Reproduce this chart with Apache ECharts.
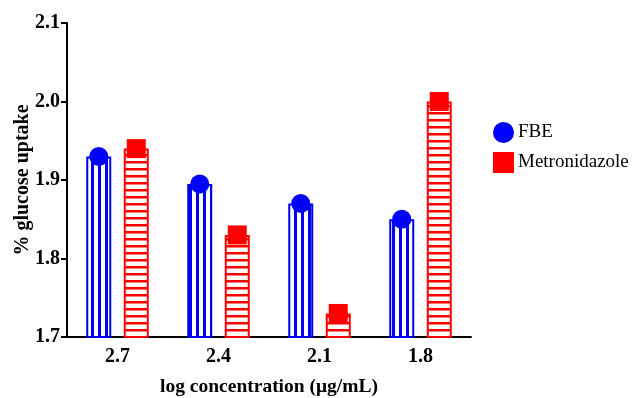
<!DOCTYPE html>
<html>
<head>
<meta charset="utf-8">
<script src="https://cdn.jsdelivr.net/npm/echarts@6/dist/echarts.min.js"></script>
<style>
  html, body { margin: 0; padding: 0; background: #fff; }
  #chart { width: 632px; height: 398px; }
</style>
</head>
<body>
<div id="chart"></div>
<script>
const categories = ['2.7', '2.4', '2.1', '1.8'];
const fbe = [1.93, 1.895, 1.87, 1.85];
const metronidazole = [1.94, 1.83, 1.73, 2.0];
const yTicks = { min: 1.7, max: 2.1, interval: 0.1 };

const blue = '#0000ee';
const red = '#ff0000';
const serif = 'Liberation Serif';

// striped fill for the bars
const stripes = (color, vertical, period, thick) => {
  const c = document.createElement('canvas');
  c.width = vertical ? period : 8;
  c.height = vertical ? 8 : period;
  const ctx = c.getContext('2d');
  ctx.fillStyle = '#fff';
  ctx.fillRect(0, 0, c.width, c.height);
  ctx.fillStyle = color;
  if (vertical) ctx.fillRect(0, 0, thick, c.height);
  else ctx.fillRect(0, 0, c.width, thick);
  return { image: c, repeat: 'repeat' };
};

const chart = echarts.init(document.getElementById('chart'));

const option = {
  animation: false,
  grid: { left: 67, right: 161, top: 23, bottom: 61, containLabel: false, outerBoundsMode: 'none' },
  legend: {
    orient: 'vertical',
    left: 488,
    top: 117,
    itemWidth: 19,
    itemHeight: 19,
    itemGap: 9,
    textStyle: { fontFamily: serif, fontSize: 19, color: '#000' },
    data: [
      { name: 'FBE', icon: 'circle', itemStyle: { color: '#0000ff' } },
      { name: 'Metronidazole', icon: 'rect', itemStyle: { color: red } }
    ]
  },
  xAxis: {
    type: 'category',
    data: categories,
    name: 'log concentration (μg/mL)',
    nameLocation: 'middle',
    nameGap: 40,
    nameMoveOverlap: false,
    nameTextStyle: { fontFamily: serif, fontSize: 19.5, fontWeight: 'bold', color: '#000' },
    axisLine: { lineStyle: { color: '#000', width: 2 } },
    axisTick: { alignWithLabel: true, length: 6, lineStyle: { color: '#000', width: 2 } },
    axisLabel: { fontFamily: serif, fontSize: 20, fontWeight: 'bold', color: '#000', margin: 10 }
  },
  yAxis: {
    type: 'value',
    min: yTicks.min,
    max: yTicks.max,
    interval: yTicks.interval,
    name: '% glucose uptake',
    nameLocation: 'middle',
    nameGap: 34,
    nameMoveOverlap: false,
    nameTextStyle: { fontFamily: serif, fontSize: 20, fontWeight: 'bold', color: '#000' },
    splitLine: { show: false },
    axisLine: { show: true, lineStyle: { color: '#000', width: 2 } },
    axisTick: { show: true, length: 6, lineStyle: { color: '#000', width: 2 } },
    axisLabel: {
      fontFamily: serif, fontSize: 20, fontWeight: 'bold', color: '#000', margin: 7,
      formatter: v => v.toFixed(1)
    }
  },
  series: [
    {
      name: 'FBE',
      type: 'bar',
      data: fbe,
      barWidth: 25,
      barGap: '50%',
      itemStyle: { color: stripes(blue, true, 7, 3), borderColor: blue, borderWidth: 2 }
    },
    {
      name: 'Metronidazole',
      type: 'bar',
      data: metronidazole,
      barWidth: 25,
      barGap: '50%',
      itemStyle: { color: stripes(red, false, 7, 2.5), borderColor: red, borderWidth: 2 }
    },
    {
      name: 'FBE',
      type: 'pictorialBar',
      data: fbe,
      barWidth: 25,
      barGap: '50%',
      symbol: 'circle',
      symbolSize: [19, 19],
      symbolPosition: 'end',
      symbolOffset: [0, '-50%'],
      z: 5,
      itemStyle: { color: '#0000ff' }
    },
    {
      name: 'Metronidazole',
      type: 'pictorialBar',
      data: metronidazole,
      barWidth: 25,
      barGap: '50%',
      symbol: 'rect',
      symbolSize: [19, 19],
      symbolPosition: 'end',
      symbolOffset: [0, '-50%'],
      z: 5,
      itemStyle: { color: red }
    }
  ]
};

chart.setOption(option);
</script>
</body>
</html>
